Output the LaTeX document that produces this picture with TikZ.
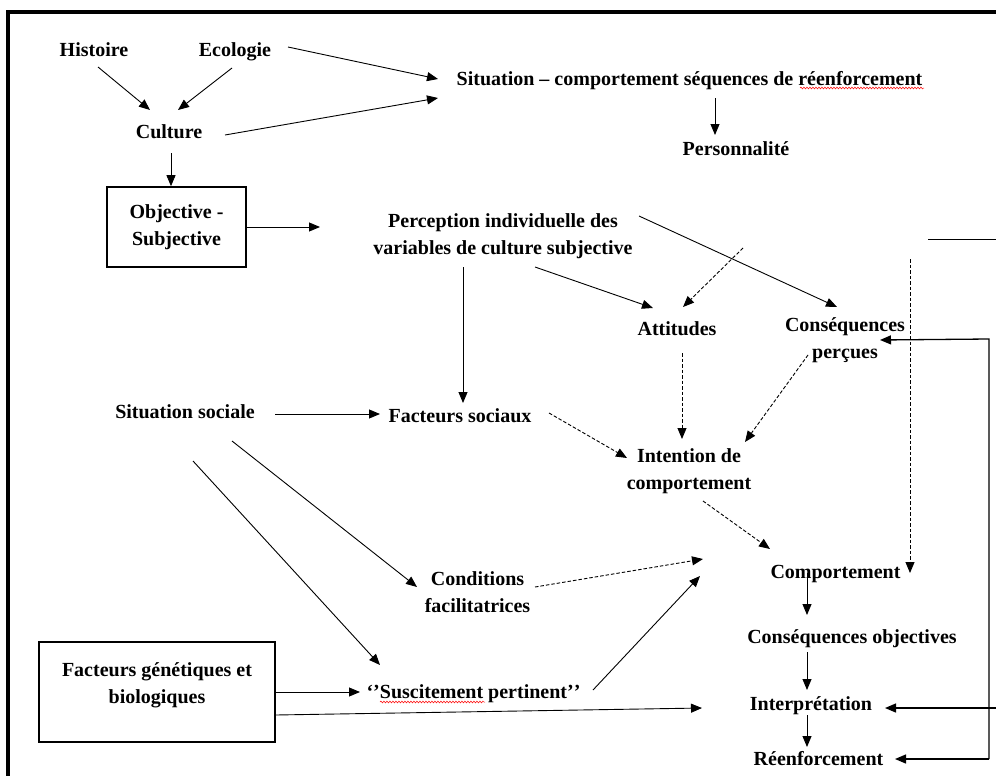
\documentclass[tikz,border=0pt]{standalone}
\usepackage{fontspec}
\setmainfont{Liberation Serif}
\usetikzlibrary{arrows.meta,calc,decorations.pathmorphing}

% multi-line labels sit on the baseline of their last line
\tikzset{
  lbl/.style={inner sep=0pt, anchor=base, align=center,
    font=\fontsize{20}{27}\selectfont\bfseries},
  boxed/.style={draw, line width=1.6pt, inner sep=4pt, align=center,
    font=\fontsize{20}{27}\selectfont\bfseries},
  arr/.style={line width=0.9pt, -{Triangle[length=11pt,width=9pt]}},
  darr/.style={arr, dash pattern=on 3.5pt off 2pt},
  plain/.style={line width=1pt},
  loopline/.style={line width=1.3pt},
  squiggle/.style={red, line width=0.5pt,
    decorate, decoration={snake, amplitude=0.9pt, segment length=3pt}}
}

\begin{document}
\begin{tikzpicture}[x=1pt, y=-1pt]
\useasboundingbox (0,0) rectangle (996,776);

% outer frame (top and left edges)
\draw[line width=4pt] (8,776) -- (8,12) -- (996,12);

% ---- nodes ----
\node[lbl] (hist)   at (94,57)    {Histoire};
\node[lbl] (eco)    at (235,57)   {Ecologie};
\node[lbl] (cult)   at (169,138)  {Culture};
\node[boxed, minimum width=139pt, minimum height=80pt] (obj) at (176.5,227) {Objective -\\Subjective};
\node[lbl] (sit)    at (689.5,85) {Situation – comportement séquences de réenforcement};
\node[lbl] (pers)   at (736,155)  {Personnalité};
\node[lbl] (perc)   at (503,254)  {Perception individuelle des\\variables de culture subjective};
\node[lbl] (att)    at (677,335)  {Attitudes};
\node[lbl] (csq)    at (845,358)  {Conséquences\\perçues};
\node[lbl] (socsit) at (185,418)  {Situation sociale};
\node[lbl] (facsoc) at (460,422)  {Facteurs sociaux};
\node[lbl] (inten)  at (689,489)  {Intention de\\comportement};
\node[lbl] (cond)   at (477.5,612) {Conditions\\facilitatrices};
\node[lbl] (susc)   at (473.5,698) {‘\kern0pt’Suscitement pertinent’\kern0pt’};
\node[draw, line width=1.6pt, minimum width=236pt, minimum height=100pt, inner sep=0pt] (gen) at (157,692) {};
\node[lbl] (gentxt) at (157,703)  {Facteurs génétiques et\\biologiques};
\node[lbl] (comp)   at (835.5,578) {Comportement};
\node[lbl] (cobj)   at (852,643)  {Conséquences objectives};
\node[lbl] (interp) at (811,710)  {Interprétation};
\node[lbl] (reenf)  at (818.5,765) {Réenforcement};

% spell-check underlines
\draw[squiggle] ($(sit.base)+(110.5,3)$) -- ($(sit.base)+(234.5,3)$);
\draw[squiggle] ($(susc.base)+(-93.5,4)$) -- ($(susc.base)+(11.5,4)$);

% free ends on the right-hand side
\coordinate (dtop)  at (743,248);
\coordinate (vtop)  at (910,259);
\coordinate (hl1)   at (928,239);
\coordinate (hl2)   at (996,239);
\coordinate (rtop)  at (989,339);
\coordinate (rbot)  at (989,759);
\coordinate (redge) at (996,708);

% ---- culture part ----
\draw[arr] ($(hist.base)+(4,10)$) -- ($(cult.base)+(-19,-28)$);
\draw[arr] ($(eco.base)+(-3,11)$) -- ($(cult.base)+(9,-28)$);
\draw[arr] ($(eco.base)+(53,-10)$) -- ($(sit.base)+(-251.5,-6)$);
\draw[arr] ($(cult.base)+(56,-3)$) -- ($(sit.base)+(-251.5,13)$);
\draw[arr] ($(cult.base)+(2,15)$) -- ($(obj.north)+(-5.5,0)$);
\draw[arr] (obj.east) -- ($(perc.base)+(-183,-27)$);
\draw[arr] ($(sit.base)+(25.5,13)$) -- ($(pers.base)+(-21,-20)$);

% ---- perception part ----
\draw[arr] ($(perc.base)+(-40,13)$) -- ($(facsoc.base)+(3,-19)$);
\draw[arr] ($(perc.base)+(32,13)$) -- ($(att.base)+(-24,-27)$);
\draw[arr] ($(perc.base)+(136,-38)$) -- ($(csq.base)+(-8,-51)$);
\draw[darr] (dtop) -- ($(att.base)+(6,-28)$);
\draw[darr] (vtop) -- ($(comp.base)+(74.5,-5)$);
\draw[plain] (hl1) -- (hl2);

% ---- feedback loop ----
\draw[loopline, -{Triangle[length=11pt,width=9pt]}] (rbot) -- (rtop) -- ($(csq.base)+(35,-18)$);
\draw[loopline, -{Triangle[length=11pt,width=9pt]}] (rbot) -- ($(reenf.base)+(76.5,-6)$);
\draw[loopline, -{Triangle[length=11pt,width=9pt]}] (redge) -- ($(interp.base)+(74,-2)$);

% ---- social situation ----
\draw[arr] ($(socsit.base)+(90,-4)$) -- ($(facsoc.base)+(-80,-8)$);
\draw[darr] ($(facsoc.base)+(89,-9)$) -- ($(inten.base)+(-62,-31)$);
\draw[darr] ($(att.base)+(5,18)$) -- ($(inten.base)+(-7,-50)$);
\draw[darr] ($(csq.base)+(-37,-3)$) -- ($(inten.base)+(56,-47)$);
\draw[darr] ($(inten.base)+(14,12)$) -- ($(comp.base)+(-65.5,-29)$);
\draw[arr] ($(socsit.base)+(47,23)$) -- ($(cond.base)+(-60.5,-25)$);
\draw[arr] ($(socsit.base)+(8,43)$) -- ($(susc.base)+(-93.5,-33)$);
\draw[darr] ($(cond.base)+(57.5,-25)$) -- ($(comp.base)+(-132.5,-19)$);
\draw[arr] ($(susc.base)+(119.5,-8)$) -- ($(comp.base)+(-135.5,-2)$);

% ---- genetic factors ----
\draw[arr] (gen.east) -- ($(susc.base)+(-113.5,-6)$);
\draw[arr] ($(gen.east)+(0,23)$) -- ($(interp.base)+(-109,-2)$);

% ---- behaviour chain ----
\draw[arr] ($(comp.base)+(-28.5,-5)$) -- ($(cobj.base)+(-45,-28)$);
\draw[arr] ($(cobj.base)+(-45,9)$) -- ($(interp.base)+(-4,-20)$);
\draw[arr] ($(interp.base)+(-4,5)$) -- ($(reenf.base)+(-11.5,-18)$);
\end{tikzpicture}
\end{document}
